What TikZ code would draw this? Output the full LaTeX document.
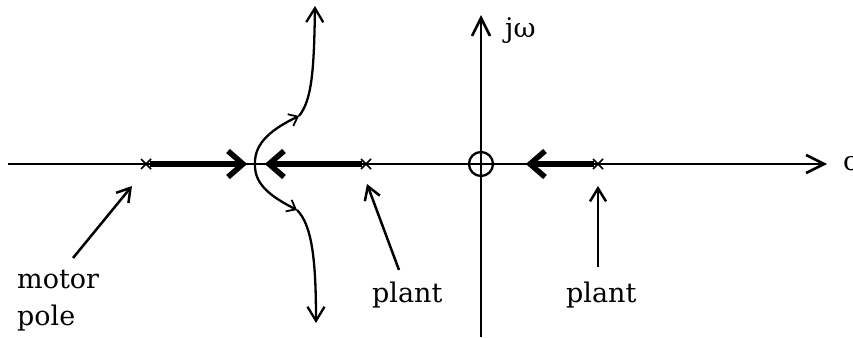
\documentclass[tikz,border=0pt]{standalone}
\usepackage{fontspec}
\setmainfont{DejaVu Serif}
\usetikzlibrary{arrows.meta}
\begin{document}
\begin{tikzpicture}[x=1pt,y=-1pt,
  axis/.style={line width=2.6pt},
  axarrow/.style={axis,-{Straight Barb[length=18pt,width=18pt,line width=2.6pt]}},
  lblarrow/.style={line width=2.5pt,-{Straight Barb[length=13pt,width=16pt,line width=2.5pt]}},
  curve/.style={line width=2.3pt},
  midarrow/.style={curve,-{Straight Barb[length=8pt,width=13pt,line width=1.8pt]}},
  tiparrow/.style={curve,-{Straight Barb[length=14pt,width=17pt,line width=2.3pt]}},
  thick locus/.style={line width=6pt},
  chevron/.style={line width=5.5pt,line cap=butt,line join=miter},
  cross/.style={line width=1.6pt},
  lbl/.style={font=\fontsize{27}{37}\selectfont,inner sep=0pt}]
\useasboundingbox (0,0) rectangle (853,337);
% axes
\coordinate (xl) at (8,164);
\coordinate (xr) at (827,164);
\coordinate (yb) at (481,337);
\coordinate (yt) at (481,15);
\draw[axarrow] (xl) -- (xr);
\draw[axarrow] (yb) -- (yt);
\node[lbl,anchor=west] (sigma) at (843,164) {σ};
\node[lbl,anchor=west] (jw) at (505,31) {jω};
% zero at origin
\node[draw,circle,line width=2.3pt,minimum size=24pt,inner sep=0pt] (zero) at (481,164) {};
% poles
\coordinate (pm) at (146,164);
\coordinate (pp) at (366,164);
\coordinate (pr) at (598,164);
\foreach \p in {pm,pp,pr}{
  \draw[cross] ([shift={(-5,-5)}]\p) -- ([shift={(5,5)}]\p);
  \draw[cross] ([shift={(-5,5)}]\p) -- ([shift={(5,-5)}]\p);
}
% thick locus segments
\coordinate (ma) at (240,164);
\coordinate (pa) at (272,164);
\coordinate (ra) at (533,164);
\draw[thick locus] ([xshift=4]pm) -- (ma);
\draw[thick locus] ([xshift=-4]pp) -- (pa);
\draw[thick locus] ([xshift=-4]pr) -- (ra);
% chevrons
\draw[chevron] (228,151) -- (243,164) -- (228,177);
\draw[chevron] (284,151) -- (269,164) -- (284,177);
\draw[chevron] (545,151) -- (530,164) -- (545,177);
% breakaway branches
\coordinate (bk) at (255,164);
\coordinate (ua) at (299,116);
\coordinate (la) at (297,210);
\coordinate (ut) at (315,6);
\coordinate (lt) at (316,323);
\draw[midarrow] (bk) .. controls (254,142) and (274,128) .. (ua);
\draw[tiparrow] (ua) .. controls (312,100) and (314,70) .. (ut);
\draw[midarrow] (bk) .. controls (254,186) and (274,198) .. (la);
\draw[tiparrow] (la) .. controls (312,225) and (316,260) .. (lt);
% labels
\node[lbl,anchor=base west,align=left] (motor) at (17,325) {motor\\pole};
\node[lbl,anchor=base west] (plant1) at (372,302) {plant};
\node[lbl,anchor=base west] (plant2) at (566,302) {plant};
\coordinate (m1) at (73,258);
\coordinate (m2) at (132,186);
\coordinate (p1) at (399,270);
\coordinate (p2) at (367,184);
\coordinate (r1) at (598,267);
\coordinate (r2) at (598,186);
\draw[lblarrow] (m1) -- (m2);
\draw[lblarrow] (p1) -- (p2);
\draw[lblarrow] (r1) -- (r2);
\end{tikzpicture}
\end{document}
